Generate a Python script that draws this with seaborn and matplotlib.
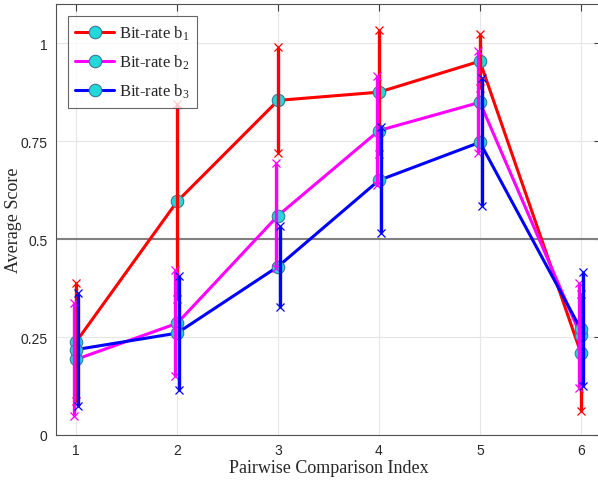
import numpy as np
import pandas as pd
import matplotlib
matplotlib.use("Agg")
import matplotlib.pyplot as plt
import seaborn as sns

x_idx = [1, 2, 3, 4, 5, 6]
series = ["Bit-rate b$_1$", "Bit-rate b$_2$", "Bit-rate b$_3$"]
mean_b1 = [0.238, 0.596, 0.854, 0.875, 0.954, 0.21]
mean_b2 = [0.193, 0.285, 0.560, 0.777, 0.849, 0.254]
mean_b3 = [0.218, 0.260, 0.430, 0.650, 0.747, 0.270]
err_b1 = [0.150, 0.250, 0.135, 0.158, 0.069, 0.150]
err_b2 = [0.144, 0.135, 0.135, 0.140, 0.130, 0.134]
err_b3 = [0.145, 0.145, 0.103, 0.135, 0.163, 0.145]
colors = ["#ff0000", "#ff00ff", "#0000ff"]
offsets = [0.0, -0.02, 0.02]

df = pd.DataFrame({
    "x": x_idx * 3,
    "score": mean_b1 + mean_b2 + mean_b3,
    "series": [series[0]] * 6 + [series[1]] * 6 + [series[2]] * 6,
})

sns.set_style("white")
plt.rcParams["font.family"] = ["Liberation Sans", "DejaVu Sans"]
plt.rcParams["mathtext.fontset"] = "custom"
plt.rcParams["mathtext.rm"] = "Liberation Serif"
plt.rcParams["mathtext.it"] = "Liberation Serif"
plt.rcParams["mathtext.default"] = "regular"

fig = plt.figure(figsize=(5.98, 4.81), dpi=100)
ax = fig.add_axes([56 / 598, 45 / 481, 545 / 598, 431 / 481])

ax.axhline(0.5, color="#808080", lw=1.5, zorder=1)

sns.lineplot(data=df, x="x", y="score", hue="series", palette=colors,
             marker="o", markersize=9, markerfacecolor="#22d8d8",
             markeredgecolor="#3a7a9a", markeredgewidth=0.8,
             linewidth=2.2, ax=ax, zorder=3, legend=True)

means = [mean_b1, mean_b2, mean_b3]
errs = [err_b1, err_b2, err_b3]
for m, e, c, off in zip(means, errs, colors, offsets):
    xs = np.array(x_idx) + off
    lo = np.array(m) - np.array(e)
    hi = np.array(m) + np.array(e)
    ax.vlines(xs, lo, hi, color=c, lw=2.4, zorder=4)
    ax.plot(xs, lo, "x", color=c, ms=6, mew=0.9, zorder=4)
    ax.plot(xs, hi, "x", color=c, ms=6, mew=0.9, zorder=4)

ax.set_xlim(0.8, 6.2)
ax.set_ylim(0, 1.1)
ax.set_xticks(x_idx)
ax.set_xticklabels([str(v) for v in x_idx])
ax.set_yticks([0, 0.25, 0.5, 0.75, 1])
ax.set_yticklabels(["0", "0.25", "0.5", "0.75", "1"])
ax.grid(True, color="#e6e6e6", lw=0.8)
ax.set_axisbelow(True)
ax.tick_params(direction="in", length=5, width=0.8, color="#404040",
               top=True, right=True, labelsize=10, pad=6)
for s in ax.spines.values():
    s.set_color("#505050")
    s.set_linewidth(0.8)

ax.set_xlabel("Pairwise Comparison Index", fontsize=13,
              family=["Liberation Serif", "DejaVu Serif"])
ax.set_ylabel("Average Score", fontsize=13,
              family=["Liberation Serif", "DejaVu Serif"])
ax.yaxis.set_label_coords(-0.062, 0.5)
ax.xaxis.set_label_coords(0.5, -0.055)

leg = ax.legend(loc="upper left", bbox_to_anchor=(0.022, 0.972),
                borderaxespad=0,
                prop={"family": ["Liberation Serif"], "size": 12},
                frameon=True, fancybox=False, edgecolor="#404040",
                handlelength=2.3, borderpad=0.45, labelspacing=0.65,
                handletextpad=0.3)
leg.get_frame().set_linewidth(0.8)
for h in leg.legend_handles:
    h.set_linewidth(2.2)

fig.savefig("out.png", dpi=100)
